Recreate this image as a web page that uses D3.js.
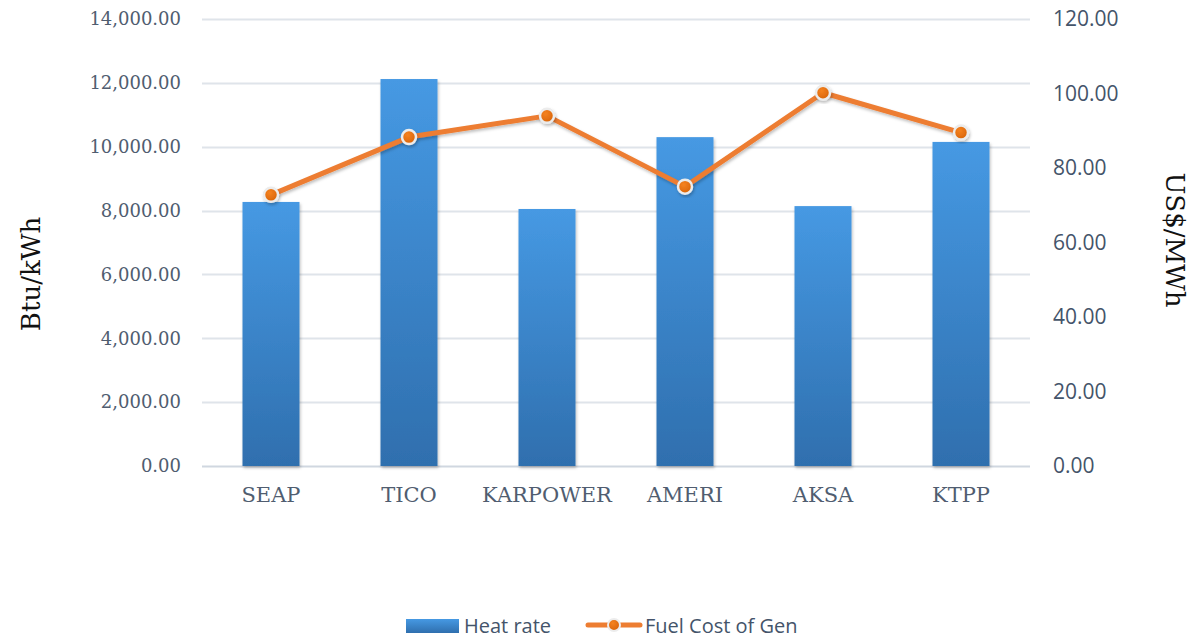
<!DOCTYPE html>
<html>
<head>
<meta charset="utf-8">
<script src="https://cdn.jsdelivr.net/npm/d3@7"></script>
<style>
  body { margin: 0; background: #fff; }
  svg { display: block; }
</style>
</head>
<body>
<div id="chart"></div>
<script>
// chart data
var plants = ["SEAP", "TICO", "KARPOWER", "AMERI", "AKSA", "KTPP"];
var heatRate = [8270, 12120, 8050, 10300, 8140, 10150];
var fuelCost = [72.8, 88.3, 94.0, 75.0, 100.2, 89.5];
var leftTicks = [0, 2000, 4000, 6000, 8000, 10000, 12000, 14000];
var rightTicks = [0, 20, 40, 60, 80, 100, 120];

var width = 1193,
    height = 640;

var margin = {top: 19, right: 163, bottom: 174, left: 202};
var x0 = margin.left,
    x1 = width - margin.right,
    y0 = height - margin.bottom,
    y1 = margin.top;

var textColor = "#44546a";

var svg = d3.select("#chart")
    .append("svg")
    .attr("width", width)
    .attr("height", height);

var defs = svg.append("defs");

// bar gradient, light top to darker bottom
var grad = defs.append("linearGradient")
    .attr("id", "barGrad")
    .attr("x1", 0).attr("y1", 0).attr("x2", 0).attr("y2", 1);
grad.append("stop").attr("offset", "0%").attr("stop-color", "#4699e3");
grad.append("stop").attr("offset", "100%").attr("stop-color", "#2f6fae");

var dot = defs.append("radialGradient")
    .attr("id", "dotGrad")
    .attr("cx", "40%").attr("cy", "35%").attr("r", "65%");
dot.append("stop").attr("offset", "0%").attr("stop-color", "#f5821f");
dot.append("stop").attr("offset", "100%").attr("stop-color", "#d9650a");

var shadow = defs.append("filter")
    .attr("id", "shadow")
    .attr("x", "-30%").attr("y", "-30%").attr("width", "160%").attr("height", "160%");
shadow.append("feDropShadow")
    .attr("dx", 1).attr("dy", 2).attr("stdDeviation", 1.5)
    .attr("flood-color", "#000").attr("flood-opacity", 0.25);

// scales
var x = d3.scaleBand()
    .domain(plants)
    .range([x0, x1])
    .paddingInner(0.587)
    .paddingOuter(0.2935);

var yLeft = d3.scaleLinear().domain([0, 14000]).range([y0, y1]);
var yRight = d3.scaleLinear().domain([0, 120]).range([y0, y1]);

// gridlines
svg.append("g")
    .selectAll("line")
    .data(leftTicks)
    .enter()
    .append("line")
    .attr("x1", x0)
    .attr("x2", x1)
    .attr("y1", function(d) { return Math.round(yLeft(d)) + 0.5; })
    .attr("y2", function(d) { return Math.round(yLeft(d)) + 0.5; })
    .attr("stroke", function(d) { return d === 0 ? "#d0d7e0" : "#dfe4ea"; })
    .attr("stroke-width", 2);

// left axis
var leftAxis = svg.append("g")
    .attr("transform", "translate(" + (x0 - 21) + ",0)")
    .call(d3.axisLeft(yLeft).tickValues(leftTicks).tickFormat(d3.format(",.2f")).tickSize(0).tickPadding(0));
leftAxis.select(".domain").remove();
leftAxis.selectAll("text")
    .style("font-family", "'DejaVu Serif', serif")
    .style("font-size", "18px")
    .attr("fill", "#505d70");

// right axis
var rightAxis = svg.append("g")
    .attr("transform", "translate(" + (x1 + 23) + ",0)")
    .call(d3.axisRight(yRight).tickValues(rightTicks).tickFormat(d3.format(".2f")).tickSize(0).tickPadding(0));
rightAxis.select(".domain").remove();
rightAxis.selectAll("text")
    .style("font-family", "'Open Sans', sans-serif")
    .style("font-size", "21px")
    .attr("fill", textColor);

// bars
svg.append("g")
    .selectAll("rect")
    .data(heatRate)
    .enter()
    .append("rect")
    .attr("x", function(d, i) { return x(plants[i]); })
    .attr("y", function(d) { return yLeft(d); })
    .attr("width", x.bandwidth())
    .attr("height", function(d) { return y0 - yLeft(d); })
    .attr("fill", "url(#barGrad)")
    .attr("filter", "url(#shadow)");

// line
var line = d3.line()
    .x(function(d, i) { return x(plants[i]) + x.bandwidth() / 2; })
    .y(function(d) { return yRight(d); });

svg.append("path")
    .datum(fuelCost)
    .attr("d", line)
    .attr("fill", "none")
    .attr("stroke", "#ed7d31")
    .attr("stroke-width", 5)
    .attr("stroke-linejoin", "round")
    .attr("filter", "url(#shadow)");

svg.append("g")
    .selectAll("circle")
    .data(fuelCost)
    .enter()
    .append("circle")
    .attr("cx", function(d, i) { return x(plants[i]) + x.bandwidth() / 2; })
    .attr("cy", function(d) { return yRight(d); })
    .attr("r", 7)
    .attr("fill", "url(#dotGrad)")
    .attr("stroke", "#ececec")
    .attr("stroke-width", 2.5)
    .attr("filter", "url(#shadow)");

// x labels
svg.append("g")
    .selectAll("text")
    .data(plants)
    .enter()
    .append("text")
    .attr("x", function(d) { return x(d) + x.bandwidth() / 2; })
    .attr("y", 502)
    .attr("text-anchor", "middle")
    .style("font-family", "'DejaVu Serif', serif")
    .style("font-size", "21px")
    .attr("fill", "#505d70")
    .text(function(d) { return d; });

// axis titles
svg.append("text")
    .attr("transform", "translate(40,274) rotate(-90)")
    .attr("text-anchor", "middle")
    .style("font-family", "'DejaVu Serif', serif")
    .style("font-size", "26px")
    .attr("fill", "#111")
    .text("Btu/kWh");

svg.append("text")
    .attr("transform", "translate(1166,240) rotate(90)")
    .attr("text-anchor", "middle")
    .style("font-family", "'DejaVu Serif', serif")
    .style("font-size", "26px")
    .attr("fill", "#111")
    .text("US$/MWh");

// legend
var legend = svg.append("g");

legend.append("rect")
    .attr("x", 406).attr("y", 619)
    .attr("width", 53).attr("height", 14)
    .attr("fill", "url(#barGrad)");

legend.append("text")
    .attr("x", 464).attr("y", 633)
    .style("font-family", "'Open Sans', sans-serif")
    .style("font-size", "20px")
    .attr("fill", textColor)
    .text("Heat rate");

legend.append("line")
    .attr("x1", 588).attr("x2", 640)
    .attr("y1", 625).attr("y2", 625)
    .attr("stroke", "#ed7d31")
    .attr("stroke-width", 5)
    .attr("stroke-linecap", "round");

legend.append("circle")
    .attr("cx", 614).attr("cy", 625)
    .attr("r", 6)
    .attr("fill", "url(#dotGrad)")
    .attr("stroke", "#ececec")
    .attr("stroke-width", 2);

legend.append("text")
    .attr("x", 645).attr("y", 633)
    .style("font-family", "'Open Sans', sans-serif")
    .style("font-size", "20px")
    .attr("fill", textColor)
    .text("Fuel Cost of Gen");
</script>
</body>
</html>
